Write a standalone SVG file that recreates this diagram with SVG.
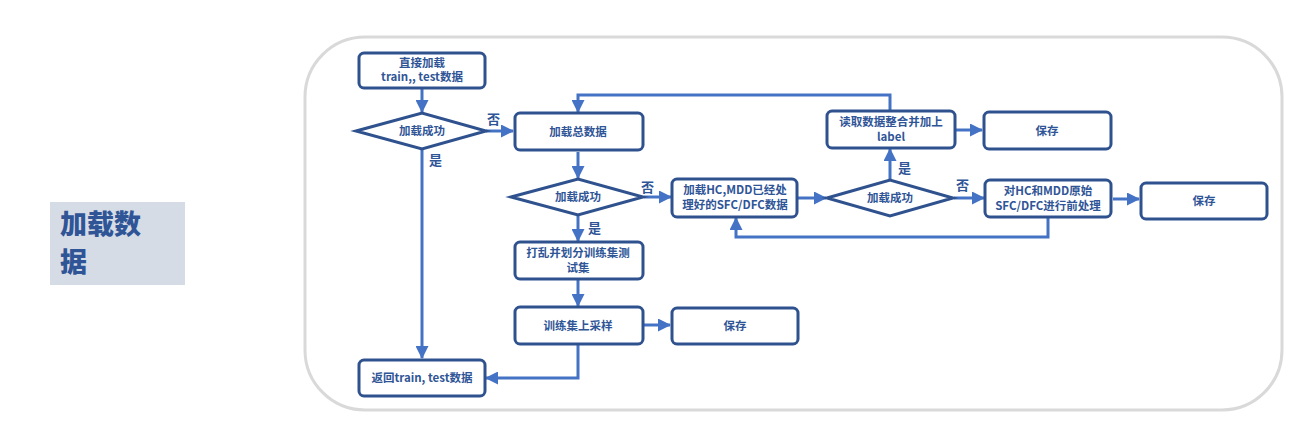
<svg xmlns="http://www.w3.org/2000/svg" width="1297" height="423" viewBox="0 0 1297 423">
<style>
.box{fill:#fff;stroke:#2f528f;stroke-width:3}
.t{font-family:"Noto Sans CJK SC","Liberation Sans",sans-serif;font-size:11.5px;font-weight:bold;fill:#2f5597;text-anchor:middle}
.lbl{font-family:"Noto Sans CJK SC",sans-serif;font-size:13px;font-weight:bold;fill:#2f5597}
.c{fill:none;stroke:#4472c4;stroke-width:3;marker-end:url(#ah)}
.big{font-family:"Noto Sans CJK SC",sans-serif;font-size:27px;font-weight:900;fill:#2f5597}
</style>
<defs>
<marker id="ah" markerUnits="userSpaceOnUse" markerWidth="13" markerHeight="13" refX="12" refY="6.5" orient="auto" viewBox="0 0 13 13">
<path d="M0,0 L13,6.5 L0,13 Z" fill="#4472c4"/>
</marker>
</defs>
<rect x="305" y="37" width="977" height="373" rx="60" fill="#fff" stroke="#d9d9d9" stroke-width="3"/>
<g id="title">
<rect x="50" y="202" width="135" height="83" fill="#d6dce5"/>
<text class="big" x="60" y="234">加载数</text>
<text class="big" x="60" y="272">据</text>
</g>
<g id="connectors">
<path class="c" d="M422,89 V112"/>
<path class="c" d="M486,131 H513"/>
<path class="c" d="M422,149 V358"/>
<path class="c" d="M578,152 V178"/>
<path class="c" d="M644,197 H671"/>
<path class="c" d="M578,216 V241"/>
<path class="c" d="M578,280 V306"/>
<path class="c" d="M644,325 H670"/>
<path class="c" d="M578,345 V378 H486"/>
<path class="c" d="M798,198 H826"/>
<path class="c" d="M890,179 V149"/>
<path class="c" d="M954,198 H984"/>
<path class="c" d="M1048,218 V237 H736 V218"/>
<path class="c" d="M890,110 V95 H578 V112"/>
<path class="c" d="M956,130 H982"/>
<path class="c" d="M1113,199 H1139"/>
</g>
<g id="labels">
<text class="lbl" x="487" y="124">否</text>
<text class="lbl" x="429" y="165">是</text>
<text class="lbl" x="641" y="192">否</text>
<text class="lbl" x="588" y="233">是</text>
<text class="lbl" x="898" y="173">是</text>
<text class="lbl" x="956" y="190">否</text>
</g>
<g id="n1"><rect class="box" x="359" y="53" width="126" height="35" rx="5"/><text class="t" x="422" y="67">直接加载</text><text class="t" x="422" y="81">train,, test数据</text></g>
<g id="d1"><polygon class="box" points="356,131 422,113 486,131 422,149"/><text class="t" x="422" y="135">加载成功</text></g>
<g id="n3"><rect class="box" x="515" y="113" width="128" height="37" rx="5"/><text class="t" x="578" y="136">加载总数据</text></g>
<g id="d2"><polygon class="box" points="511,197 578,179 643,197 578,215"/><text class="t" x="578" y="201">加载成功</text></g>
<g id="n5"><rect class="box" x="672" y="179" width="125" height="38" rx="5"/><text class="t" x="735" y="194">加载HC,MDD已经处</text><text class="t" x="735" y="209">理好的SFC/DFC数据</text></g>
<g id="d3"><polygon class="box" points="827,198 890,180 953,198 890,216"/><text class="t" x="890" y="202">加载成功</text></g>
<g id="n7"><rect class="box" x="827" y="111" width="128" height="37" rx="5"/><text class="t" x="891" y="126">读取数据整合并加上</text><text class="t" x="891" y="141">label</text></g>
<g id="n8"><rect class="box" x="984" y="112" width="127" height="37" rx="5"/><text class="t" x="1047" y="135">保存</text></g>
<g id="n9"><rect class="box" x="985" y="180" width="126" height="37" rx="5"/><text class="t" x="1048" y="195">对HC和MDD原始</text><text class="t" x="1048" y="210">SFC/DFC进行前处理</text></g>
<g id="n10"><rect class="box" x="1141" y="183" width="126" height="36" rx="5"/><text class="t" x="1204" y="205">保存</text></g>
<g id="n11"><rect class="box" x="515" y="242" width="128" height="37" rx="5"/><text class="t" x="578" y="257">打乱并划分训练集测</text><text class="t" x="578" y="272">试集</text></g>
<g id="n12"><rect class="box" x="515" y="307" width="128" height="37" rx="5"/><text class="t" x="578" y="330">训练集上采样</text></g>
<g id="n13"><rect class="box" x="672" y="308" width="126" height="36" rx="5"/><text class="t" x="735" y="330">保存</text></g>
<g id="n14"><rect class="box" x="359" y="360" width="126" height="36" rx="5"/><text class="t" x="422" y="382">返回train, test数据</text></g>
</svg>
